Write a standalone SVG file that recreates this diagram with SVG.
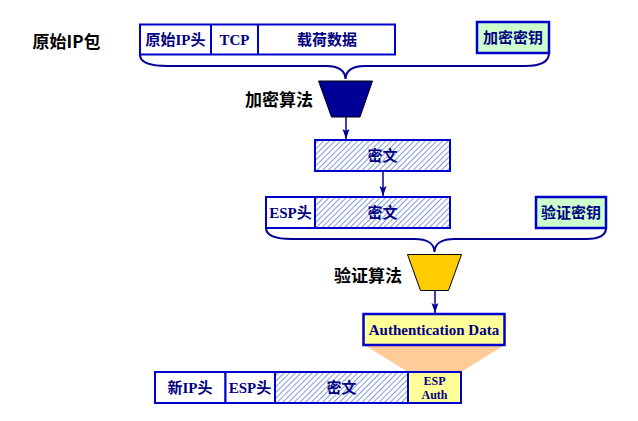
<svg xmlns="http://www.w3.org/2000/svg" width="638" height="421" viewBox="0 0 638 421">
<defs>
  <pattern id="hatch" width="4" height="4" patternUnits="userSpaceOnUse" patternTransform="rotate(45)">
    <rect width="4" height="4" fill="#ffffff"/>
    <line x1="0" y1="0" x2="0" y2="4" stroke="#3355cc" stroke-width="1.2"/>
  </pattern>
  <marker id="arr" viewBox="0 0 10 8" refX="10" refY="4" markerWidth="10" markerHeight="8" markerUnits="userSpaceOnUse" orient="auto">
    <path d="M0,0.5 L10,4 L0,7.5 L2,4 z" fill="#000099"/>
  </marker>
  <style>
    .box { stroke: #0000cc; stroke-width: 2; fill: #ffffff; }
    .hat { stroke: #0000cc; stroke-width: 2; fill: url(#hatch); }
    .key { stroke: #0000cc; stroke-width: 2.5; fill: #ccffcc; }
    .yel { stroke: #0000cc; stroke-width: 2.5; fill: #ffff99; }
    .bt { font-family: "Liberation Serif", "Noto Sans CJK SC", serif; font-weight: bold; font-size: 15px; fill: #000080; text-anchor: middle; }
    .lbl { font-family: "Noto Sans CJK SC", sans-serif; font-weight: bold; font-size: 17px; fill: #000000; text-anchor: middle; }
    .brace { fill: none; stroke: #000099; stroke-width: 2; }
    .arrow { fill: none; stroke: #000099; stroke-width: 1.5; marker-end: url(#arr); }
  </style>
</defs>

<g id="label-original"><text class="lbl" x="66.5" y="48">原始IP包</text></g>
<g id="label-encalg"><text class="lbl" x="279" y="106">加密算法</text></g>
<g id="label-authalg"><text class="lbl" x="368" y="282">验证算法</text></g>

<g id="original-packet">
  <rect class="box" x="140" y="24.5" width="255" height="30"/>
  <line x1="211" y1="24.5" x2="211" y2="54.5" stroke="#0000cc" stroke-width="2"/>
  <line x1="258" y1="24.5" x2="258" y2="54.5" stroke="#0000cc" stroke-width="2"/>
  <text class="bt" x="175.5" y="45">原始IP头</text>
  <text class="bt" x="234.5" y="45">TCP</text>
  <text class="bt" x="327" y="45">载荷数据</text>
</g>

<g id="enc-key">
  <rect class="key" x="477" y="22" width="72" height="31"/>
  <text class="bt" x="513" y="43">加密密钥</text>
</g>

<g id="enc-alg">
  <polygon points="318.5,81 372.5,81 360,117 331.5,117" fill="#000099" stroke="#000000" stroke-width="1"/>
</g>

<g id="ciphertext">
  <rect class="hat" x="315" y="140" width="135" height="31"/>
  <text class="bt" x="382.5" y="161">密文</text>
</g>

<g id="esp-packet">
  <rect class="box" x="266" y="197" width="49" height="31"/>
  <rect class="hat" x="315" y="197" width="135" height="31"/>
  <text class="bt" x="290.5" y="218">ESP头</text>
  <text class="bt" x="382.5" y="218">密文</text>
</g>

<g id="auth-key">
  <rect class="key" x="536" y="197" width="70" height="31"/>
  <text class="bt" x="571" y="218">验证密钥</text>
</g>

<g id="auth-alg">
  <polygon points="407.5,254.5 461.5,254.5 448.5,290.5 420.5,290.5" fill="#ffcc00" stroke="#000000" stroke-width="1"/>
</g>

<g id="funnel">
  <polygon points="366,346 503,346 461,372 408,372" fill="#ffcc99"/>
</g>

<g id="auth-data">
  <rect class="yel" x="363.5" y="314" width="141" height="31"/>
  <text class="bt" x="434" y="335">Authentication Data</text>
</g>

<g id="new-packet">
  <rect class="box" x="155" y="372" width="70.5" height="31"/>
  <rect class="box" x="225.5" y="372" width="49.5" height="31"/>
  <rect class="hat" x="275" y="372" width="133" height="31"/>
  <rect class="yel" x="408" y="372" width="53" height="31" style="stroke-width:2"/>
  <text class="bt" x="190" y="393">新IP头</text>
  <text class="bt" x="250" y="393">ESP头</text>
  <text class="bt" x="341.5" y="393">密文</text>
  <text class="bt" x="434.5" y="385" style="font-size:12px">ESP</text>
  <text class="bt" x="434.5" y="399" style="font-size:12px">Auth</text>
</g>

<g id="connectors">
  <path class="brace" d="M140,55 C140,62 148,66 168,66 L326,66 C339,66 345,70 345.5,79 C346,70 352,66 365,66 L525,66 C543,66 549,61 549,53"/>
  <path class="brace" d="M266,228 C266,235 273,239 292,239 L414,239 C428,239 434,243 434.5,252 C435,243 441,239 455,239 L586,239 C600,239 606,235 606,228"/>
  <line class="arrow" x1="346" y1="117" x2="346" y2="139"/>
  <line class="arrow" x1="383" y1="171" x2="383" y2="196"/>
  <line class="arrow" x1="435" y1="290.5" x2="435" y2="313"/>
</g>
</svg>
